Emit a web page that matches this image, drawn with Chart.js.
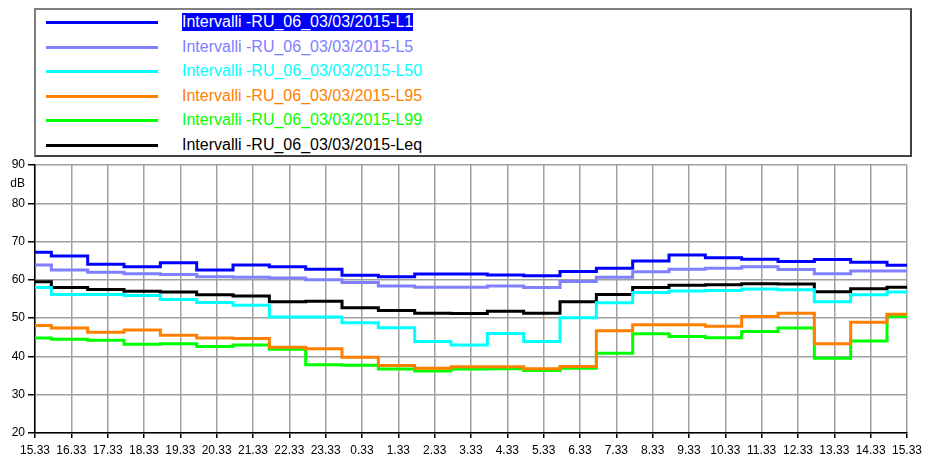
<!DOCTYPE html>
<html>
<head>
<meta charset="utf-8">
<script src="https://cdn.jsdelivr.net/npm/chart.js@4/dist/chart.umd.min.js"></script>
<style>
    body { margin: 0; background: #fff; font-family: "Liberation Sans", Arial, sans-serif; }
    #wrap { position: relative; width: 927px; height: 459px; }
    #grafico { position: absolute; left: 0; top: 0; }
    #legenda {
        position: absolute; left: 34px; top: 8px; width: 878px; height: 149px;
        border: 2px solid; border-color: #808080 #404040 #404040 #808080;
        box-sizing: border-box; background: #fff;
    }
    .voce { position: absolute; left: 0; height: 20px; width: 100%; }
    .voce .linea { position: absolute; left: 10px; width: 112px; height: 3px; top: 9px; }
    .voce .testo { position: absolute; left: 146px; top: 1px; font-size: 16px; line-height: 18px; white-space: nowrap; }
    .voce .testo.sel { background: #0000ff; color: #fff !important; }
</style>
</head>
<body>
<div id="wrap">
    <canvas id="grafico" width="927" height="459"></canvas>
    <div id="legenda"></div>
</div>
<script>
// inizio di ogni intervallo (ora locale), l'ultimo e' la fine del grafico
var orari = ['15:33', '16:00', '17:00', '18:00', '19:00', '20:00', '21:00', '22:00', '23:00',
    '0:00', '1:00', '2:00', '3:00', '4:00', '5:00', '6:00', '7:00', '8:00', '9:00', '10:00',
    '11:00', '12:00', '13:00', '14:00', '15:00', '15:33'];

var etichetteX = ['15.33', '16.33', '17.33', '18.33', '19.33', '20.33', '21.33', '22.33', '23.33',
    '0.33', '1.33', '2.33', '3.33', '4.33', '5.33', '6.33', '7.33', '8.33', '9.33', '10.33',
    '11.33', '12.33', '13.33', '14.33', '15.33'];

var nomi = ['Intervalli -RU_06_03/03/2015-L1', 'Intervalli -RU_06_03/03/2015-L5',
    'Intervalli -RU_06_03/03/2015-L50', 'Intervalli -RU_06_03/03/2015-L95',
    'Intervalli -RU_06_03/03/2015-L99', 'Intervalli -RU_06_03/03/2015-Leq'];

var cori = ['#0000ff', '#8080ff', '#00ffff', '#ff8000', '#00ff00', '#000000'];

var L1 = [67.2, 66.2, 64.1, 63.4, 64.5, 62.6, 63.9, 63.4, 62.8, 61.2, 60.8, 61.5, 61.5,
    61.3, 61.1, 62.2, 63.0, 64.9, 66.5, 65.8, 65.4, 64.8, 65.3, 64.6, 63.8];
var L5 = [63.9, 62.6, 62.0, 61.6, 61.4, 60.8, 60.7, 60.5, 60.0, 59.3, 58.4, 58.1, 58.1,
    58.4, 58.0, 59.6, 60.7, 62.1, 62.8, 63.0, 63.4, 62.7, 61.6, 62.3, 62.3];
var L50 = [58.0, 56.2, 56.2, 55.9, 54.9, 54.1, 53.4, 50.3, 50.3, 48.8, 47.5, 43.9, 43.0,
    46.0, 43.9, 50.1, 54.0, 56.7, 57.1, 57.2, 57.6, 57.4, 54.3, 56.1, 56.8];
var L95 = [48.1, 47.4, 46.3, 46.9, 45.5, 44.8, 44.7, 42.4, 42.0, 39.8, 37.6, 36.9, 37.3,
    37.3, 36.8, 37.4, 46.7, 48.3, 48.3, 47.9, 50.4, 51.3, 43.3, 48.9, 51.0];
var L99 = [44.8, 44.5, 44.2, 43.2, 43.3, 42.6, 43.0, 41.9, 37.8, 37.7, 36.7, 36.2, 36.7,
    36.8, 36.3, 36.9, 40.8, 45.9, 45.2, 44.9, 46.5, 47.4, 39.5, 44.0, 50.4];
var Leq = [59.5, 58.0, 57.5, 57.0, 56.8, 56.1, 55.8, 54.3, 54.4, 52.7, 52.0, 51.3, 51.2,
    51.8, 51.3, 54.3, 56.2, 58.0, 58.6, 58.7, 59.0, 58.9, 56.9, 57.7, 58.1];

var serie = [L1, L5, L50, L95, L99, Leq];

// ore trascorse dalle 15:33
function oreDaInizio(s, i) {
    var p = s.split(':');
    var ore = parseInt(p[0], 10) + parseInt(p[1], 10) / 60 - (15 + 33 / 60);
    if (ore < 0 || (i > 0 && ore === 0)) ore += 24;
    return ore;
}

function punti(valori) {
    var out = [];
    for (var i = 0; i < orari.length; i++) {
        var v = i < valori.length ? valori[i] : valori[valori.length - 1];
        out.push({ x: oreDaInizio(orari[i], i), y: v });
    }
    return out;
}

var datasets = [];
for (var i = 0; i < serie.length; i++) {
    datasets.push({
        label: nomi[i], data: punti(serie[i]),
        borderColor: cori[i], backgroundColor: 'transparent',
        borderWidth: 3, pointRadius: 0, stepped: 'before', tension: 0
    });
}

// legenda html
var leg = document.getElementById('legenda');
for (var i = 0; i < nomi.length; i++) {
    var d = document.createElement('div');
    d.className = 'voce';
    d.style.top = (2 + i * 24.5) + 'px';
    d.innerHTML = '<div class="linea" style="background:' + cori[i] + '"></div>' +
        '<span class="testo' + (i === 0 ? ' sel' : '') + '" style="color:' + cori[i] + '">' + nomi[i] + '</span>';
    leg.appendChild(d);
}

var etichettaDb = {
    id: 'etichettaDb',
    afterDraw: function(chart) {
        var ctx = chart.ctx;
        var y = chart.scales.y.getPixelForValue(85.2);
        ctx.save();
        ctx.fillStyle = '#000';
        ctx.font = '12px "Liberation Sans", Arial';
        ctx.textAlign = 'right';
        ctx.textBaseline = 'middle';
        ctx.fillText('dB', 25, y);
        ctx.restore();
    }
};

new Chart(document.getElementById('grafico'), {
    type: 'line',
    data: { datasets: datasets },
    plugins: [etichettaDb],
    options: {
        responsive: false, animation: false,
        layout: { padding: { left: 0, right: 16, top: 165, bottom: 0 } },
        plugins: { legend: { display: false }, tooltip: { enabled: false } },
        scales: {
            x: {
                type: 'linear', min: 0, max: 24,
                afterFit: function(s) { s.height = 26; },
                afterBuildTicks: function(s) {
                    s.ticks = [];
                    for (var k = 0; k <= 24; k++) s.ticks.push({ value: k });
                },
                ticks: {
                    autoSkip: false, maxRotation: 0, padding: 5,
                    color: '#000', font: { family: '"Liberation Sans", Arial', size: 12 },
                    callback: function(v, i) { return etichetteX[i]; }
                },
                grid: { color: '#a0a0a0', lineWidth: 1.5, tickColor: '#000', tickLength: 5 },
                border: { color: '#000', width: 1.5 }
            },
            y: {
                min: 20, max: 90,
                afterFit: function(s) { s.width = 35; },
                ticks: {
                    stepSize: 10, padding: 3, color: '#000',
                    font: { family: '"Liberation Sans", Arial', size: 12 }
                },
                grid: { color: '#a0a0a0', lineWidth: 1.5, tickColor: '#000', tickLength: 7 },
                border: { color: '#000', width: 1.5 }
            }
        }
    }
});
</script>
</body>
</html>
